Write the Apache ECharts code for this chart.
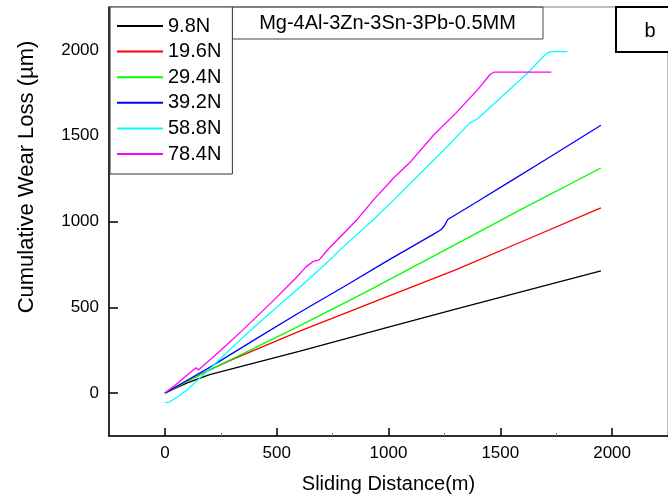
<!DOCTYPE html>
<html>
<head>
<meta charset="utf-8">
<script src="https://cdn.jsdelivr.net/npm/echarts@6/dist/echarts.min.js"></script>
<style>html,body{margin:0;padding:0;background:#fff}#c{width:668px;height:500px}</style>
</head>
<body>
<div id="c"></div>
<script>
const seriesNames = ['9.8N', '19.6N', '29.4N', '39.2N', '58.8N', '78.4N'];
const xTicks = [0, 500, 1000, 1500, 2000];
const xMinorTicks = [250, 750, 1250, 1750];
const yTicks = [0, 500, 1000, 1500, 2000];

const load98 = [[0,0],[50,30],[100,60],[200,108],[600,243],[1000,385],[1300,490],[1950,712]];
const load196 = [[0,0],[100,70],[200,135],[300,195],[600,360],[1000,565],[1300,718],[1600,885],[1950,1079]];
const load294 = [[0,0],[100,70],[200,135],[400,262],[600,390],[900,590],[1250,832],[1600,1075],[1950,1312]];
const load392 = [[0,0],[100,75],[200,150],[400,310],[600,468],[800,620],[1000,775],[1200,925],[1235,952],[1250,975],[1265,1012],[1400,1118],[1550,1238],[1700,1358],[1950,1561]];
const load588 = [[0,-55],[20,-52],[60,-20],[100,20],[150,80],[200,140],[300,265],[400,385],[500,500],[588,600],[700,730],[800,855],[931,1009],[1026,1129],[1150,1290],[1250,1420],[1363,1573],[1400,1600],[1500,1720],[1626,1870],[1680,1945],[1710,1982],[1730,1990],[1800,1990]];
const load784 = [[0,0],[50,50],[100,105],[139,148],[150,135],[250,250],[350,370],[478,530],[588,674],[632,737],[661,766],[690,776],[734,844],[763,882],[858,1009],[939,1135],[1026,1258],[1100,1350],[1202,1504],[1300,1630],[1400,1770],[1455,1858],[1472,1870],[1728,1870]];

const seriesData = [load98, load196, load294, load392, load588, load784];
const colors = ['#000000', '#ff0000', '#00ff00', '#0000ff', '#00ffff', '#ff00ff'];
const FONT = '"Liberation Sans", Arial, sans-serif';
const plain = v => String(v);

const chart = echarts.init(document.getElementById('c'), null, {renderer: 'canvas'});
chart.setOption({
  animation: false,
  backgroundColor: '#fff',
  grid: {left: 109, top: 7, right: -11, bottom: 64, show: true, borderColor: '#808080', borderWidth: 1, containLabel: false},
  legend: {
    data: seriesNames, orient: 'vertical', left: 110, top: 7,
    itemWidth: 46, itemHeight: 14, itemGap: 5.6,
    padding: [9, 11, 10, 6], borderColor: '#333', borderWidth: 1,
    backgroundColor: '#fff',
    textStyle: {fontFamily: FONT, fontSize: 20, color: '#000', lineHeight: 20},
    itemStyle: {opacity: 0}
  },
  xAxis: [{
    type: 'value', min: -250, max: 2250,
    axisLine: {show: true, onZero: false, lineStyle: {color: '#000', width: 1.5}},
    axisTick: {show: true, inside: true, length: 8, customValues: xTicks, lineStyle: {color: '#000', width: 1.5}},
    axisLabel: {customValues: xTicks, formatter: plain, fontFamily: FONT, fontSize: 17, color: '#000', margin: 9},
    splitLine: {show: false},
    name: 'Sliding Distance(m)', nameLocation: 'middle', nameGap: 38,
    nameTextStyle: {fontFamily: FONT, fontSize: 20, color: '#000'}
  }, {
    type: 'value', min: -250, max: 2250, position: 'bottom',
    axisLine: {show: false, onZero: false},
    axisTick: {show: true, inside: true, length: 3, customValues: xMinorTicks, lineStyle: {color: '#777', width: 1}},
    axisLabel: {show: false},
    splitLine: {show: false}
  }],
  yAxis: {
    type: 'value', min: -250, max: 2250,
    axisLine: {show: true, onZero: false, lineStyle: {color: '#000', width: 1.5}},
    axisTick: {show: true, inside: true, length: 9, customValues: yTicks, lineStyle: {color: '#000', width: 1.5}},
    axisLabel: {customValues: yTicks, formatter: plain, fontFamily: FONT, fontSize: 17, color: '#000', margin: 10},
    splitLine: {show: false}
  },
  series: seriesData.map((d, i) => ({
    name: seriesNames[i], type: 'line', data: d, xAxisIndex: 0,
    symbol: 'none', showSymbol: false, smooth: false,
    lineStyle: {color: colors[i], width: 1.3}, itemStyle: {color: colors[i]}
  })),
  graphic: [
    {type: 'text', x: 27, y: 177, rotation: Math.PI / 2, style: {text: 'Cumulative Wear Loss (\u00b5m)', font: '22px ' + FONT, fill: '#000', align: 'center', verticalAlign: 'middle'}},
    {type: 'rect', shape: {x: 232, y: 7, width: 311, height: 32}, style: {fill: 'none', stroke: '#444', lineWidth: 1}},
    {type: 'text', x: 387.5, y: 23, style: {text: 'Mg-4Al-3Zn-3Sn-3Pb-0.5MM', font: '20px ' + FONT, fill: '#000', align: 'center', verticalAlign: 'middle'}},
    {type: 'rect', shape: {x: 616, y: 7, width: 80, height: 45}, style: {fill: '#fff', stroke: '#000', lineWidth: 2}},
    {type: 'text', x: 650, y: 31, style: {text: 'b', font: '20px ' + FONT, fill: '#000', align: 'center', verticalAlign: 'middle'}}
  ]
});
</script>
</body>
</html>
